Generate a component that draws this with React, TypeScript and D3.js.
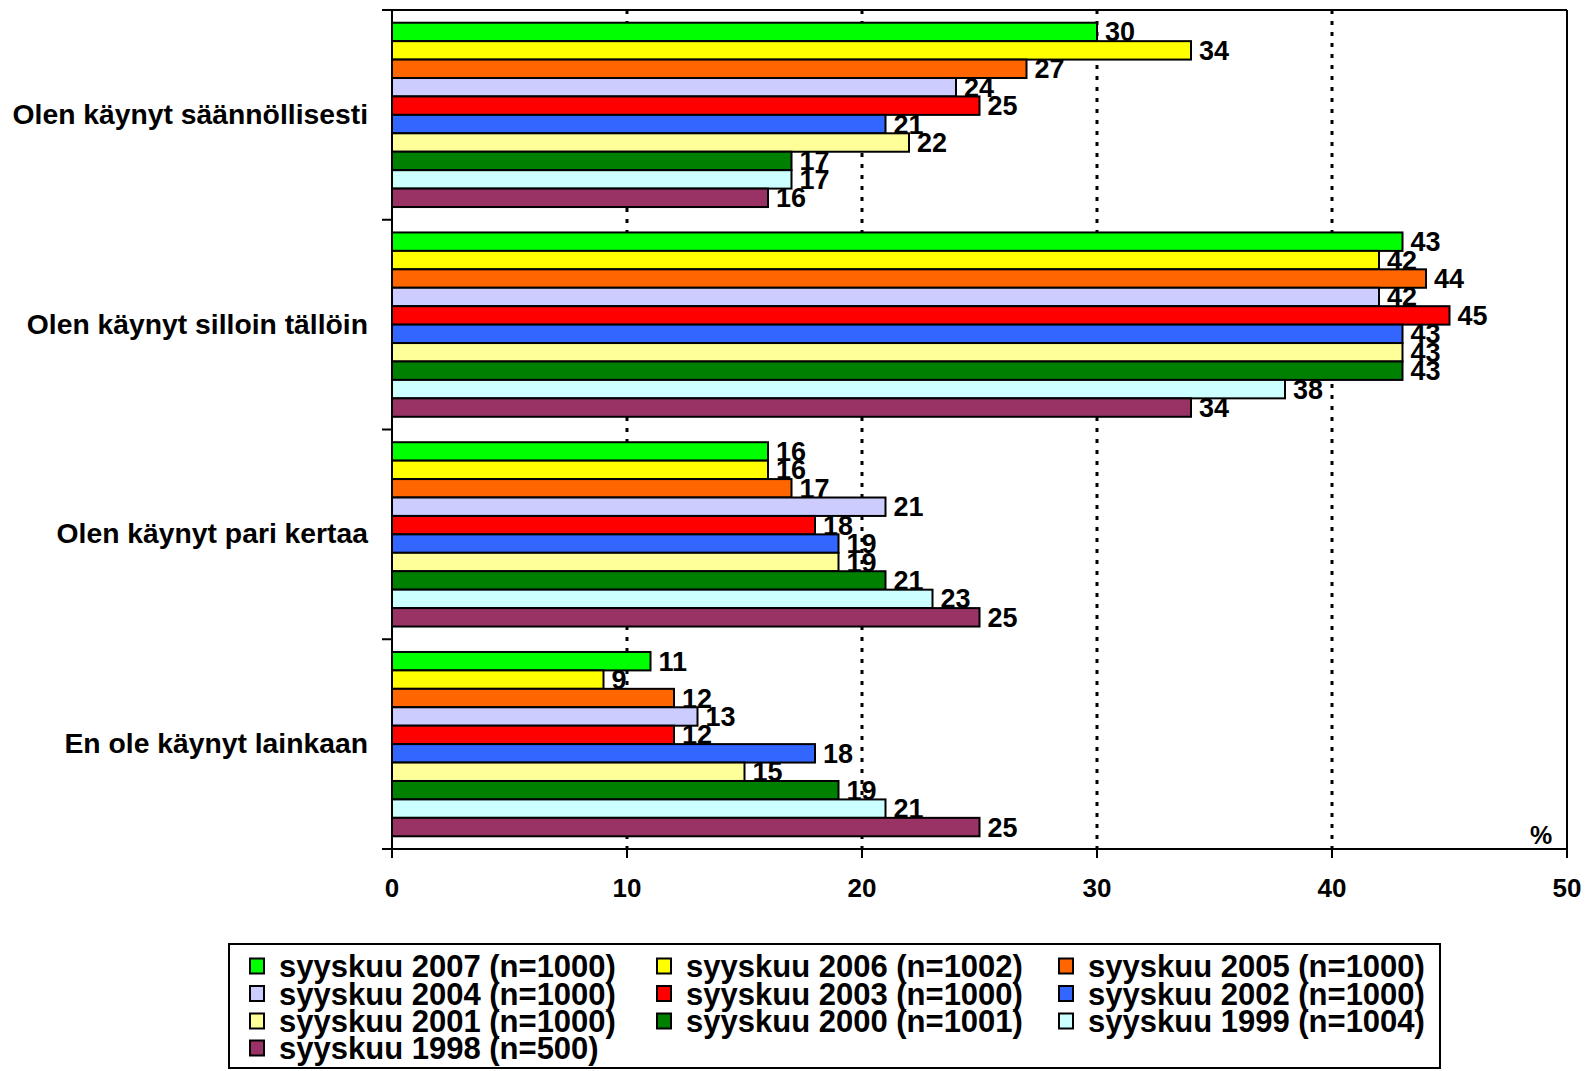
import React from "react";
import * as d3 from "d3";

const categories = [
  "Olen käynyt säännöllisesti",
  "Olen käynyt silloin tällöin",
  "Olen käynyt pari kertaa",
  "En ole käynyt lainkaan",
];

const seriesNames = [
  "syyskuu 2007 (n=1000)",
  "syyskuu 2006 (n=1002)",
  "syyskuu 2005 (n=1000)",
  "syyskuu 2004 (n=1000)",
  "syyskuu 2003 (n=1000)",
  "syyskuu 2002 (n=1000)",
  "syyskuu 2001 (n=1000)",
  "syyskuu 2000 (n=1001)",
  "syyskuu 1999 (n=1004)",
  "syyskuu 1998 (n=500)",
];

const seriesColors = [
  "#00FF00",
  "#FFFF00",
  "#FF6600",
  "#CCCCFF",
  "#FF0000",
  "#3366FF",
  "#FFFF99",
  "#008000",
  "#CCFFFF",
  "#993366",
];

// values[category][series]
const valuesRegular = [30, 34, 27, 24, 25, 21, 22, 17, 17, 16];
const valuesSometimes = [43, 42, 44, 42, 45, 43, 43, 43, 38, 34];
const valuesCouple = [16, 16, 17, 21, 18, 19, 19, 21, 23, 25];
const valuesNever = [11, 9, 12, 13, 12, 18, 15, 19, 21, 25];
const allValues = [valuesRegular, valuesSometimes, valuesCouple, valuesNever];

const xTicks = [0, 10, 20, 30, 40, 50];

const FONT = "'Liberation Sans', Arial, Helvetica, sans-serif";

export default function App() {
  const W = 1591;
  const H = 1071;
  const left = 392;
  const right = 1567;
  const top = 10;
  const bottom = 849;

  const x = d3.scaleLinear().domain([0, 50]).range([left, right]);
  const y = d3.scaleBand<number>().domain(d3.range(categories.length)).range([top, bottom]).padding(0);
  const inner = d3
    .scaleBand<number>()
    .domain(d3.range(seriesNames.length))
    .range([0, y.bandwidth()])
    .paddingInner(0)
    .paddingOuter(0.69);

  const legendCols = [250, 657, 1059];
  const legendTextOffset = 29;
  const legendRows = [966, 993.5, 1021, 1048];

  return (
    <svg
      width={W}
      height={H}
      style={{ position: "absolute", left: 0, top: 0, background: "#fff" }}
      fontFamily={FONT}
      fontWeight="bold"
    >
      <rect x={0} y={0} width={W} height={H} fill="#fff" />
      {/* dotted gridlines */}
      {xTicks.slice(1, -1).map((t) => (
        <line
          key={"g" + t}
          x1={x(t)}
          x2={x(t)}
          y1={top}
          y2={bottom}
          stroke="#000"
          strokeWidth={3}
          strokeDasharray="4,7"
        />
      ))}
      {/* frame top & right */}
      <line x1={left - 10} x2={right} y1={top} y2={top} stroke="#000" strokeWidth={2} />
      <line x1={right} x2={right} y1={top} y2={bottom} stroke="#000" strokeWidth={2} />

      {/* bars */}
      {allValues.map((vals, ci) =>
        vals.map((v, si) => {
          const by = (y(ci) as number) + (inner(si) as number);
          const bh = inner.bandwidth();
          return (
            <rect
              key={`b${ci}-${si}`}
              x={x(0)}
              y={by}
              width={x(v) - x(0)}
              height={bh}
              fill={seriesColors[si]}
              stroke="#000"
              strokeWidth={2}
            />
          );
        })
      )}
      {/* value labels */}
      {allValues.map((vals, ci) =>
        vals.map((v, si) => {
          const by = (y(ci) as number) + (inner(si) as number);
          const bh = inner.bandwidth();
          return (
            <text
              key={`l${ci}-${si}`}
              x={x(v) + 8}
              y={by + bh / 2 + 9.5}
              fontSize={27}
              fill="#000"
            >
              {v}
            </text>
          );
        })
      )}

      {/* left axis */}
      <line x1={left} x2={left} y1={top} y2={bottom} stroke="#000" strokeWidth={2} />
      {d3.range(categories.length + 1).map((i) => {
        const yy = i < categories.length ? (y(i) as number) : bottom;
        return <line key={"ct" + i} x1={left - 10} x2={left} y1={yy} y2={yy} stroke="#000" strokeWidth={2} />;
      })}
      {categories.map((c, i) => (
        <text
          key={"c" + i}
          x={368}
          y={(y(i) as number) + y.bandwidth() / 2 + 9}
          textAnchor="end"
          fontSize={28.3}
          fill="#000"
        >
          {c}
        </text>
      ))}

      {/* bottom axis */}
      <line x1={left} x2={right} y1={bottom} y2={bottom} stroke="#000" strokeWidth={2} />
      {xTicks.map((t) => (
        <g key={"xt" + t}>
          <line x1={x(t)} x2={x(t)} y1={bottom} y2={bottom + 9} stroke="#000" strokeWidth={2} />
          <text x={x(t)} y={897} textAnchor="middle" fontSize={26} fill="#000">
            {t}
          </text>
        </g>
      ))}
      <text x={1541} y={844} textAnchor="middle" fontSize={25} fill="#000">
        %
      </text>

      {/* legend */}
      <rect x={229} y={944} width={1211} height={124} fill="#fff" stroke="#000" strokeWidth={2} />
      {seriesNames.map((name, i) => {
        const col = i % 3;
        const row = Math.floor(i / 3);
        const lx = legendCols[col];
        const ly = legendRows[row];
        return (
          <g key={"lg" + i}>
            <rect x={lx} y={ly - 7.5} width={14} height={15} fill={seriesColors[i]} stroke="#000" strokeWidth={2} />
            <text x={lx + legendTextOffset} y={ly + 11} fontSize={31} fill="#000">
              {name}
            </text>
          </g>
        );
      })}
    </svg>
  );
}
